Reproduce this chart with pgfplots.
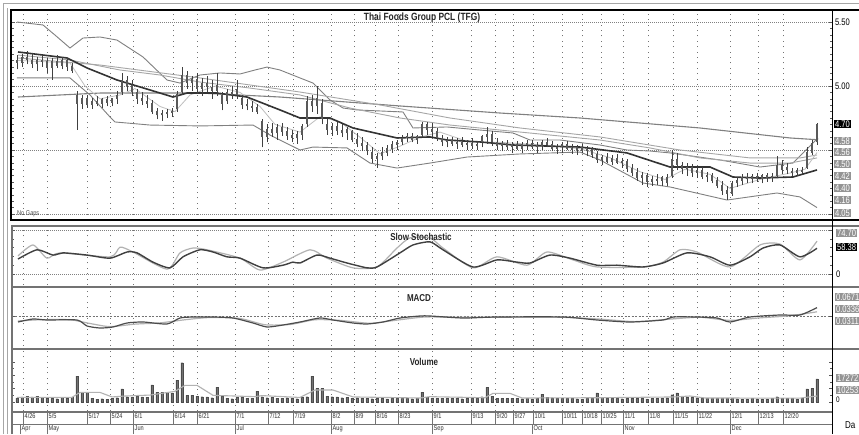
\documentclass[border=0pt]{standalone}
\usepackage{fontspec}
\setmainfont[FakeStretch=0.8]{Liberation Sans}
\usepackage{pgfplots}
\usepackage{pgfplotstable}
\pgfplotsset{compat=1.18}

% x o h l c v(thousand shares)
\pgfplotstableread{
x o h l c v
17 5.20 5.24 5.13 5.18 3000
22 5.18 5.25 5.15 5.22 3800
27 5.22 5.27 5.17 5.20 4200
32 5.20 5.26 5.14 5.17 3900
37 5.17 5.23 5.12 5.20 4500
42 5.20 5.24 5.15 5.19 3600
47 5.19 5.22 5.10 5.14 3200
52 5.14 5.22 5.05 5.19 2800
57 5.19 5.24 5.14 5.16 2500
62 5.16 5.23 5.13 5.20 3300
67 5.20 5.22 5.12 5.15 2900
72 5.15 5.18 5.10 5.12 3500
77 4.92 4.96 4.66 4.86 19500
82 4.86 4.93 4.82 4.90 7500
87 4.90 4.93 4.83 4.85 7200
92 4.85 4.91 4.82 4.88 3000
97 4.88 4.92 4.84 4.86 2200
102 4.86 4.91 4.83 4.89 2500
107 4.89 4.92 4.84 4.87 2000
112 4.87 4.91 4.84 4.90 2800
117 4.90 4.96 4.86 4.92 3200
122 4.95 5.10 4.93 5.04 9800
127 5.04 5.08 4.96 5.00 4000
132 5.00 5.05 4.92 4.95 3500
137 4.95 4.98 4.86 4.90 4200
142 4.90 4.95 4.85 4.88 3800
147 4.88 4.93 4.83 4.86 3600
152 4.86 4.89 4.78 4.80 12800
157 4.80 4.83 4.74 4.77 7500
162 4.77 4.81 4.73 4.78 7500
167 4.78 4.82 4.75 4.79 7200
172 4.79 4.83 4.76 4.80 6800
177 4.82 4.96 4.80 4.93 16500
182 4.95 5.15 4.93 5.08 29500
187 5.08 5.12 4.98 5.02 5000
192 5.02 5.08 4.96 5.05 5200
197 5.05 5.10 4.94 4.98 4500
202 4.98 5.06 4.92 5.02 4000
207 5.02 5.08 4.95 4.99 3800
212 4.99 5.05 4.90 4.96 3200
217 4.96 5.10 4.92 5.00 11200
222 4.92 4.95 4.81 4.86 4500
227 4.88 4.98 4.86 4.95 3000
232 4.95 5.00 4.90 4.93 2500
237 4.93 5.05 4.90 4.97 3500
242 4.90 4.93 4.82 4.85 3800
247 4.85 4.90 4.81 4.84 3000
252 4.84 4.88 4.80 4.83 2800
257 4.83 4.86 4.78 4.80 8200
262 4.72 4.74 4.52 4.60 4000
267 4.60 4.70 4.56 4.66 3200
272 4.66 4.71 4.60 4.63 3500
277 4.63 4.70 4.58 4.67 3000
282 4.67 4.71 4.61 4.64 2800
287 4.64 4.68 4.58 4.61 3200
292 4.61 4.66 4.56 4.59 3000
297 4.59 4.65 4.55 4.62 2500
302 4.62 4.70 4.58 4.68 3500
307 4.70 4.92 4.68 4.88 4000
312 4.88 4.93 4.80 4.84 19500
317 4.84 5.00 4.78 4.90 10500
322 4.86 4.90 4.70 4.74 10500
327 4.70 4.74 4.62 4.66 4500
332 4.66 4.71 4.61 4.68 4000
337 4.68 4.72 4.62 4.65 3800
342 4.65 4.70 4.60 4.63 3200
347 4.63 4.68 4.58 4.66 3500
352 4.64 4.66 4.56 4.58 3000
357 4.58 4.63 4.52 4.55 3200
362 4.55 4.60 4.49 4.53 3000
367 4.53 4.56 4.46 4.49 2800
372 4.48 4.52 4.40 4.43 2500
377 4.43 4.48 4.36 4.45 2800
382 4.45 4.52 4.42 4.48 2600
387 4.48 4.54 4.45 4.51 2400
392 4.51 4.57 4.48 4.54 2800
397 4.54 4.58 4.50 4.56 2600
402 4.56 4.62 4.54 4.59 3000
407 4.59 4.63 4.56 4.60 2800
412 4.60 4.63 4.56 4.58 2500
417 4.58 4.62 4.55 4.60 3000
422 4.62 4.72 4.60 4.70 7500
427 4.70 4.72 4.62 4.66 3500
432 4.66 4.71 4.60 4.64 3000
437 4.64 4.67 4.57 4.59 2800
442 4.59 4.62 4.53 4.56 3000
447 4.56 4.60 4.52 4.57 2600
452 4.57 4.60 4.53 4.55 2800
457 4.55 4.59 4.51 4.56 3000
462 4.56 4.60 4.52 4.54 2500
467 4.54 4.58 4.50 4.55 2800
472 4.55 4.59 4.51 4.53 3000
477 4.53 4.57 4.50 4.54 3200
482 4.56 4.62 4.52 4.60 4000
487 4.60 4.68 4.55 4.62 11000
492 4.62 4.65 4.53 4.56 4500
497 4.56 4.59 4.50 4.53 3000
502 4.53 4.57 4.49 4.55 2800
507 4.55 4.58 4.50 4.52 2600
512 4.52 4.56 4.48 4.54 3000
517 4.54 4.57 4.50 4.51 2800
522 4.51 4.56 4.48 4.54 2500
527 4.54 4.58 4.50 4.55 2600
532 4.55 4.58 4.51 4.52 2400
537 4.52 4.56 4.48 4.53 3000
542 4.53 4.58 4.50 4.56 6000
547 4.56 4.59 4.52 4.54 3500
552 4.54 4.57 4.49 4.51 3200
557 4.51 4.55 4.47 4.52 3000
562 4.52 4.56 4.48 4.54 2800
567 4.54 4.57 4.50 4.51 2600
572 4.51 4.55 4.47 4.50 2800
577 4.50 4.54 4.46 4.52 2500
582 4.52 4.55 4.48 4.49 2200
587 4.49 4.53 4.45 4.50 2600
592 4.50 4.52 4.44 4.46 3000
597 4.46 4.49 4.40 4.42 6800
602 4.42 4.46 4.38 4.44 3500
607 4.44 4.48 4.40 4.41 3000
612 4.41 4.46 4.38 4.43 2800
617 4.43 4.47 4.39 4.40 2600
622 4.40 4.44 4.36 4.41 2500
627 4.41 4.43 4.33 4.35 2800
632 4.35 4.39 4.30 4.32 3000
637 4.32 4.36 4.26 4.28 2600
642 4.28 4.33 4.23 4.30 2800
647 4.30 4.32 4.21 4.25 2400
652 4.25 4.30 4.22 4.27 2600
657 4.27 4.31 4.23 4.26 2800
662 4.26 4.30 4.22 4.28 3000
667 4.28 4.31 4.22 4.24 3200
672 4.30 4.50 4.28 4.42 5500
677 4.42 4.48 4.34 4.38 6800
682 4.38 4.41 4.31 4.35 4500
687 4.35 4.40 4.30 4.36 3800
692 4.36 4.39 4.29 4.32 3500
697 4.32 4.37 4.28 4.34 3200
702 4.34 4.37 4.27 4.29 3000
707 4.29 4.33 4.25 4.30 2800
712 4.30 4.32 4.24 4.26 3000
717 4.26 4.29 4.20 4.22 2600
722 4.22 4.26 4.15 4.18 2800
727 4.18 4.22 4.11 4.16 3000
732 4.16 4.26 4.14 4.24 2800
737 4.24 4.29 4.21 4.26 2500
742 4.26 4.31 4.23 4.28 2200
747 4.28 4.32 4.24 4.27 2400
752 4.27 4.31 4.24 4.29 2600
757 4.29 4.32 4.25 4.27 2500
762 4.27 4.31 4.24 4.30 2300
767 4.30 4.32 4.25 4.28 2400
772 4.28 4.32 4.25 4.29 2800
777 4.30 4.45 4.28 4.38 4000
782 4.38 4.42 4.31 4.34 3000
787 4.34 4.40 4.31 4.36 2800
792 4.33 4.36 4.30 4.32 2600
797 4.32 4.36 4.30 4.34 2400
802 4.34 4.37 4.31 4.33 2800
807 4.36 4.52 4.35 4.48 9800
812 4.48 4.58 4.46 4.55 10253
817 4.56 4.71 4.54 4.70 17272
}\price

\pgfplotstableread{
x p
17 5.500
43 5.477
55 5.398
70 5.297
83 5.375
100 5.383
117 5.359
143 5.227
167 5.047
180 5.023
200 5.086
220 5.102
240 5.094
255 5.125
267 5.148
280 5.125
300 5.063
313 5.023
330 4.891
343 4.828
357 4.813
380 4.805
403 4.797
413 4.672
447 4.680
480 4.656
513 4.633
530 4.578
560 4.578
600 4.539
627 4.500
650 4.492
670 4.477
720 4.422
760 4.367
793 4.398
813 4.555
818 4.594
}\bbup

\pgfplotstableread{
x p
17 5.063
70 5.063
90 4.930
110 4.758
115 4.719
150 4.695
200 4.688
253 4.695
270 4.617
300 4.500
313 4.523
347 4.516
370 4.398
397 4.359
430 4.398
467 4.445
520 4.469
580 4.484
600 4.422
643 4.242
670 4.211
727 4.109
777 4.164
800 4.133
817 4.050
}\bblow

\pgfplotstableread{
x p
18 5.266
67 5.219
87 5.141
117 5.047
150 4.969
173 4.914
187 4.945
217 4.945
247 4.914
280 4.813
300 4.750
330 4.750
353 4.672
397 4.594
430 4.602
447 4.578
480 4.563
513 4.539
580 4.523
627 4.477
670 4.367
710 4.367
733 4.289
760 4.281
793 4.289
817 4.344
}\madark

\pgfplotstableread{
x p
18 5.242
70 5.203
120 5.125
160 5.086
200 5.031
250 4.984
300 4.930
350 4.828
400 4.750
450 4.695
500 4.656
550 4.617
600 4.578
650 4.516
700 4.438
750 4.398
790 4.398
817 4.438
}\mafifty

\pgfplotstableread{
x p
18 5.219
100 5.164
200 5.063
300 4.953
380 4.852
450 4.750
520 4.672
600 4.602
680 4.500
750 4.438
800 4.438
817 4.461
}\maseventy

\pgfplotstableread{
x p
18 4.914
100 4.945
200 4.945
280 4.914
400 4.844
500 4.789
580 4.750
700 4.672
790 4.594
818 4.580
}\malong

\pgfplotstableread{
x p
18 5.20
70 5.18
85 5.00
100 4.90
120 4.93
135 4.98
160 4.84
175 4.80
190 4.93
215 5.00
240 4.95
260 4.84
275 4.70
300 4.64
320 4.76
340 4.72
360 4.60
380 4.47
400 4.53
420 4.60
440 4.64
470 4.56
500 4.56
540 4.54
580 4.51
610 4.44
640 4.33
665 4.27
685 4.35
710 4.31
730 4.20
760 4.27
790 4.32
805 4.35
817 4.48
}\mashort

\pgfplotstableread{
x d
18 34
37 55
53 43
63 48
87 43
110 36
127 50
137 48
153 27
170 14
183 39
200 55
213 50
227 39
240 36
263 14
283 20
293 27
300 25
317 43
330 36
347 25
367 14
377 16
400 48
413 66
430 73
443 55
473 16
497 32
517 27
530 25
550 43
570 36
597 20
617 20
643 16
663 25
687 48
710 39
730 20
750 39
763 59
780 66
800 39
817 58.38
}\stochD

\pgfplotstableread{
x k
18 41
33 66
47 36
60 48
110 39
120 61
133 50
167 11
180 48
193 59
207 55
240 36
260 9
283 27
310 55
327 36
353 14
377 16
397 59
410 82
430 82
443 59
473 14
497 39
527 20
547 50
573 32
597 16
643 16
663 27
680 55
697 50
730 16
760 66
780 68
800 32
817 74.70
}\stochK

\pgfplotstableread{
x m
18 -0.048
33 -0.024
47 -0.032
77 -0.032
87 -0.080
100 -0.096
113 -0.088
127 -0.056
143 -0.048
167 -0.064
180 -0.016
193 -0.008
213 -0.008
233 -0.016
253 -0.056
267 -0.088
283 -0.072
300 -0.048
320 -0.016
333 -0.032
353 -0.056
367 -0.064
383 -0.048
400 -0.016
420 0.000
430 0.000
463 -0.016
497 -0.008
563 -0.008
597 -0.032
630 -0.048
663 -0.032
673 -0.008
697 -0.008
717 -0.016
730 -0.048
750 -0.008
780 0.008
800 0.008
817 0.0671
}\macd

\pgfplotstableread{
x s
18 -0.040
40 -0.030
70 -0.030
90 -0.060
110 -0.085
135 -0.065
160 -0.055
185 -0.030
210 -0.012
240 -0.020
265 -0.070
290 -0.068
315 -0.030
340 -0.035
370 -0.058
395 -0.035
425 -0.008
460 -0.010
500 -0.010
560 -0.010
600 -0.025
635 -0.045
670 -0.025
700 -0.010
730 -0.035
760 -0.015
790 0.002
817 0.0336
}\signal

\pgfplotstableread{
x v
17 3500
72 3500
80 7200
100 7200
112 3800
125 4500
150 5200
175 8000
185 12500
197 12500
213 5000
255 4000
262 4800
300 3400
315 9000
333 9000
353 3800
420 3000
430 4000
485 3200
493 6500
510 6500
522 3000
600 3200
675 3800
690 4500
705 3000
800 2900
817 4500
}\volma

\pgfplotsset{
  panel/.style={
    scale only axis, width=820pt, anchor=south west,
    xmin=12, xmax=832,
    axis line style={draw=none},
    xtick={23,47,87,110,133,173,197,235,268,293,331,354,375,398,432,471,495,513,533,562,582,601,623,648,673,697,730,758,783},
    xticklabels={},
    x tick style={draw=none},
    xmajorgrids,
    major x grid style={black!55, line width=0.7pt, dash pattern=on 0.9pt off 4.5pt},
    yticklabels={},
    scaled y ticks=false, scaled x ticks=false,
    tick align=inside,
    major tick length=3pt, minor tick length=2pt,
    y tick style={black!65, line width=0.5pt},
    major y grid style={black!50, line width=0.6pt, dash pattern=on 0.8pt off 1.2pt},
  },
  bbline/.style={black!50, line width=0.9pt, mark=none},
  maline/.style={black!35, line width=0.9pt, mark=none},
}
\tikzset{
  gbox/.style={fill=black!42, text=white, inner sep=0.9pt, anchor=west, font=\fontsize{9.5}{10}\selectfont},
  kbox/.style={gbox, fill=black},
  ptitle/.style={font=\fontsize{10}{11}\selectfont\bfseries, text=black!85},
}

\begin{document}
\begin{tikzpicture}
\path[use as bounding box] (0pt,0pt) rectangle (859pt,434pt);
\fill[white] (0pt,0pt) rectangle (859pt,434pt);

% ---------- price panel ----------
\begin{axis}[panel, at={(12pt,214pt)}, height=210pt,
  ymin=3.953, ymax=5.594, ytick={4,4.5,5,5.5}, minor y tick num=9, ymajorgrids]
\addplot[bbline] table[x=x,y=p] {\bbup};
\addplot[bbline] table[x=x,y=p] {\bblow};
\addplot[black!50, line width=1.1pt, mark=none] table[x=x,y=p] {\malong};
\addplot[maline] table[x=x,y=p] {\maseventy};
\addplot[maline] table[x=x,y=p] {\mafifty};
\addplot[black!25, line width=0.8pt, mark=none] table[x=x,y=p] {\mashort};
\addplot[black!80, line width=1.6pt, mark=none] table[x=x,y=p] {\madark};
\addplot[draw=none, mark=none, error bars/.cd, y dir=plus, y explicit, error mark=none,
  error bar style={black!75, line width=0.7pt}]
  table[x=x, y=l, y error expr=\thisrow{h}-\thisrow{l}] {\price};
\addplot[draw=none, mark=none, error bars/.cd, y dir=plus, y explicit, error mark=none,
  error bar style={black!65, line width=2.6pt}]
  table[x=x, y expr={min(\thisrow{o},\thisrow{c})}, y error expr={abs(\thisrow{c}-\thisrow{o})+0.006}] {\price};
\end{axis}

% ---------- slow stochastic ----------
\begin{axis}[panel, at={(12pt,149pt)}, height=58pt,
  ymin=-25, ymax=106.8, ytick={0,100}, minor y tick num=4, ymajorgrids]
\addplot[black!30, line width=1.2pt, mark=none, smooth, tension=0.4] table[x=x,y=k] {\stochK};
\addplot[black!75, line width=1.4pt, mark=none, smooth, tension=0.4] table[x=x,y=d] {\stochD};
\end{axis}

% ---------- MACD ----------
\begin{axis}[panel, at={(12pt,88pt)}, height=57pt,
  ymin=-0.24, ymax=0.216, ytick={0}, minor y tick num=4,
  ymajorgrids, major y grid style={black!55, line width=0.7pt, dash pattern=on 2pt off 1.5pt}]
\addplot[black!30, line width=1.2pt, mark=none, smooth, tension=0.4] table[x=x,y=s] {\signal};
\addplot[black!70, line width=1.2pt, mark=none, smooth, tension=0.4] table[x=x,y=m] {\macd};
\end{axis}

% ---------- Volume ----------
\begin{axis}[panel, at={(12pt,23pt)}, height=60pt,
  ymin=-6750, ymax=38250, ytick={0,10000,20000,30000}, minor y tick num=1,
  xticklabels={4/26,5/5,5/17,5/24,6/1,6/14,6/21,7/1,7/12,7/19,8/2,8/9,8/16,8/23,9/1,9/13,9/20,9/27,10/1,10/11,10/18,10/25,11/1,11/8,11/15,11/22,12/1,12/13,12/20},
  xticklabel style={anchor=north west, inner sep=1pt, xshift=0.5pt, yshift=-1pt, font=\fontsize{7}{8}\selectfont, text=black!80},
  extra x ticks={20,47,133,235,331,432,532,623,730},
  extra x tick labels={Apr,May,Jun,Jul,Aug,Sep,Oct,Nov,Dec},
  extra x tick style={grid=none, xticklabel style={yshift=-12pt}},
  clip=false]
\addplot[ybar, bar width=2.4pt, fill=black!55, draw=black!70, line width=0.3pt] table[x=x,y=v] {\price};
\addplot[black!30, line width=1.1pt, mark=none] table[x=x,y=v] {\volma};
\end{axis}

% ---------- frames ----------
\draw[black!35, line width=0.8pt] (3pt,0pt) -- (3pt,431pt) -- (859pt,431pt);
\draw[black!35, line width=0.8pt] (7pt,0pt) -- (7pt,426pt);
\draw[black, line width=2.4pt] (11pt,214pt) -- (11pt,424pt);
\draw[black, line width=2.4pt] (9.8pt,424pt) -- (859pt,424pt);
\draw[black, line width=2.2pt] (9.8pt,214pt) -- (859pt,214pt);
\foreach \yy in {208,147,85} \draw[black!55, line width=1.6pt] (11pt,\yy pt) -- (859pt,\yy pt);
\draw[black!55, line width=1.2pt] (12pt,22pt) -- (832pt,22pt);
\draw[black!55, line width=1pt] (12pt,10pt) -- (832pt,10pt);
\draw[black!55, line width=1.2pt] (12pt,0pt) -- (12pt,208pt);
\draw[black, line width=0.8pt] (832pt,0pt) -- (832pt,424pt);
\foreach \xx in {23,47,87,110,133,173,197,235,268,293,331,354,375,398,432,471,495,513,533,562,582,601,623,648,673,697,730,758,783}
  \draw[black!55, line width=0.6pt] (\xx pt,10pt) -- (\xx pt,22pt);
\foreach \xx in {20,47,133,235,331,432,532,623,730}
  \draw[black!55, line width=0.6pt] (\xx pt,0pt) -- (\xx pt,10pt);

% ---------- titles ----------
\node[ptitle, font=\fontsize{10.5}{11}\selectfont\bfseries] at (422pt,416.5pt) {Thai Foods Group PCL (TFG)};
\node[ptitle] at (421pt,197pt) {Slow Stochastic};
\node[ptitle] at (419pt,136pt) {MACD};
\node[ptitle] at (424pt,72pt) {Volume};
\node[anchor=west, font=\fontsize{7}{7}\selectfont, text=black!70, inner sep=0pt] at (17pt,220pt) {No Gaps};

% ---------- right-hand value labels ----------
\node[anchor=west, inner sep=0.8pt, font=\fontsize{9.5}{10}\selectfont] at (834pt,412pt) {5.50};
\node[anchor=west, inner sep=0.8pt, font=\fontsize{9.5}{10}\selectfont] at (834pt,348pt) {5.00};
\node[kbox] at (834pt,310pt) {4.70};
\node[gbox] at (834pt,293pt) {4.58};
\node[gbox] at (834pt,282pt) {4.56};
\node[gbox] at (834pt,270pt) {4.50};
\node[gbox] at (834pt,258pt) {4.42};
\node[gbox] at (834pt,246pt) {4.40};
\node[gbox] at (834pt,234pt) {4.16};
\node[gbox] at (834pt,221pt) {4.05};

\node[gbox] at (836pt,201pt) {74.70};
\node[kbox] at (836pt,187pt) {58.38};
\node[anchor=west, inner sep=0.8pt, font=\fontsize{9.5}{10}\selectfont] at (835pt,160pt) {0};

\node[gbox] at (835pt,137pt) {0.0671};
\node[gbox] at (835pt,125pt) {0.0336};
\node[gbox] at (835pt,113pt) {0.0311};

\node[gbox] at (836pt,56pt) {17272};
\node[gbox] at (836pt,44pt) {10253};
\node[anchor=west, inner sep=0.8pt, font=\fontsize{8}{8}\selectfont] at (835pt,34pt) {0};

\node[anchor=west, inner sep=0pt, font=\fontsize{10}{10}\selectfont] at (845pt,9pt) {Da};
\end{tikzpicture}
\end{document}
